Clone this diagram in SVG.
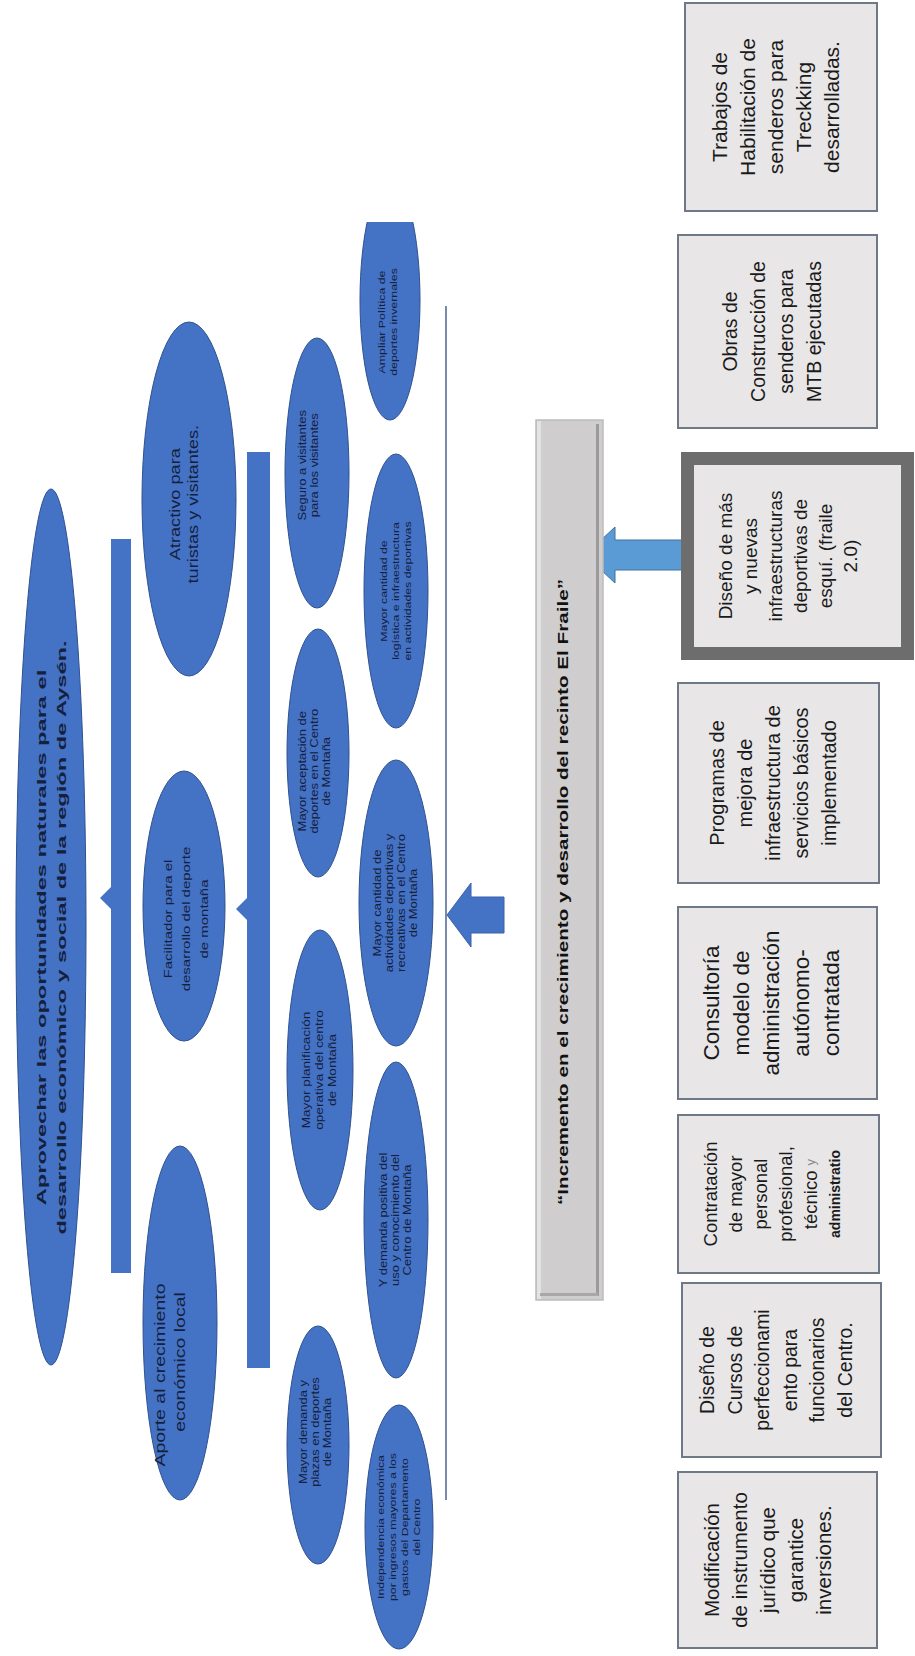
<svg xmlns="http://www.w3.org/2000/svg" width="915" height="1656" viewBox="0 0 915 1656">
<defs>
<style>
.ell{fill:#4472c4;stroke:#2f528f;stroke-width:1}
.bar{fill:#4472c4}
.et{font-family:"Liberation Sans",Arial,sans-serif;fill:#15203d;text-anchor:middle;dominant-baseline:central}
.box{fill:#e8e6e7;stroke:#6f7886;stroke-width:2}
.bt{font-family:"Liberation Sans",Arial,sans-serif;fill:#1a1a1a;text-anchor:middle;dominant-baseline:central}
</style>
<clipPath id="clipTop"><rect x="0" y="222" width="915" height="1434"/></clipPath>
</defs>
<rect width="915" height="1656" fill="#ffffff"/>

<g id="connectors">
<rect class="bar" x="111" y="539" width="20" height="734"/>
<rect class="bar" x="247" y="452" width="23" height="916"/>
<polygon fill="#4472c4" points="100,898 111,887 111,909"/>
<polygon fill="#4472c4" points="236,909 247,898 247,920"/>
<line x1="446" y1="306" x2="446" y2="1500" stroke="#4d6291" stroke-width="1.5"/>
<polygon fill="#4472c4" stroke="#3a62ad" stroke-width="1" points="447,915 471,883 471,897 504,897 504,933 471,933 471,947"/>
<polygon fill="#5b9bd5" stroke="#41719c" stroke-width="1" points="585,555 615,527 615,540 683,540 683,570 615,570 615,583"/>
</g>

<g id="n-aprovechar">
<ellipse class="ell" cx="51" cy="927" rx="35" ry="438"/>
<g transform="translate(51,927) rotate(-90) scale(1.75,1)">
<text class="et" font-size="13.5" font-weight="bold" x="-6" y="-10">Aprovechar las oportunidades naturales para el</text>
<text class="et" font-size="13.5" font-weight="bold" x="-6" y="10">desarrollo económico y social de la región de Aysén.</text>
</g>
</g>

<g id="n-atractivo">
<ellipse class="ell" cx="189" cy="499" rx="47" ry="177"/>
<g transform="translate(189,499) rotate(-90) scale(1.3,1)">
<text class="et" font-size="14" x="-4" y="-14">Atractivo para</text>
<text class="et" font-size="14" x="-4" y="4">turistas y visitantes.</text>
</g>
</g>

<g id="n-facilitador">
<ellipse class="ell" cx="184" cy="906" rx="41" ry="135"/>
<g transform="translate(184,906) rotate(-90) scale(1.3,1)">
<text class="et" font-size="11.5" x="-10" y="-16">Facilitador para el</text>
<text class="et" font-size="11.5" x="-10" y="2">desarrollo del deporte</text>
<text class="et" font-size="11.5" x="-10" y="20">de montaña</text>
</g>
</g>

<g id="n-aporte">
<ellipse class="ell" cx="180" cy="1323" rx="37" ry="177"/>
<g transform="translate(180,1323) rotate(-90) scale(1.3,1)">
<text class="et" font-size="15" x="-40" y="-20">Aporte al crecimiento</text>
<text class="et" font-size="15" x="-30" y="0">económico local</text>
</g>
</g>

<g id="n-seguro">
<ellipse class="ell" cx="317" cy="473" rx="32" ry="135"/>
<g transform="translate(317,473) rotate(-90) scale(1.3,1)">
<text class="et" font-size="10" x="6" y="-14">Seguro a visitantes</text>
<text class="et" font-size="10" x="6" y="-2">para los visitantes</text>
</g>
</g>

<g id="n-aceptacion">
<ellipse class="ell" cx="318" cy="753" rx="31" ry="124"/>
<g transform="translate(318,753) rotate(-90) scale(1.3,1)">
<text class="et" font-size="10" x="-14" y="-15">Mayor aceptación de</text>
<text class="et" font-size="10" x="-14" y="-3">deportes en el Centro</text>
<text class="et" font-size="10" x="-14" y="9">de Montaña</text>
</g>
</g>

<g id="n-planificacion">
<ellipse class="ell" cx="320" cy="1070" rx="33" ry="140"/>
<g transform="translate(320,1070) rotate(-90) scale(1.3,1)">
<text class="et" font-size="10.5" x="0" y="-13">Mayor planificación</text>
<text class="et" font-size="10.5" x="0" y="0">operativa del centro</text>
<text class="et" font-size="10.5" x="0" y="13">de Montaña</text>
</g>
</g>

<g id="n-demanda">
<ellipse class="ell" cx="318" cy="1445" rx="31" ry="119"/>
<g transform="translate(318,1445) rotate(-90) scale(1.3,1)">
<text class="et" font-size="10" x="10" y="-14">Mayor demanda y</text>
<text class="et" font-size="10" x="10" y="-2">plazas en deportes</text>
<text class="et" font-size="10" x="10" y="10">de Montaña</text>
</g>
</g>

<g id="n-ampliar">
<ellipse class="ell" cx="390" cy="300" rx="30" ry="120" clip-path="url(#clipTop)"/>
<g transform="translate(390,322) rotate(-90) scale(1.3,1)">
<text class="et" font-size="9.5" x="0" y="-8">Ampliar Política de</text>
<text class="et" font-size="9.5" x="0" y="4">deportes invernales</text>
</g>
</g>

<g id="n-logistica">
<ellipse class="ell" cx="396" cy="591" rx="32" ry="137"/>
<g transform="translate(396,591) rotate(-90) scale(1.3,1)">
<text class="et" font-size="9.5" x="0" y="-12">Mayor cantidad de</text>
<text class="et" font-size="9.5" x="0" y="0">logística e infraestructura</text>
<text class="et" font-size="9.5" x="0" y="12">en actividades deportivas</text>
</g>
</g>

<g id="n-actividades">
<ellipse class="ell" cx="396" cy="903" rx="37" ry="143"/>
<g transform="translate(396,903) rotate(-90) scale(1.3,1)">
<text class="et" font-size="10" x="0" y="-18">Mayor cantidad de</text>
<text class="et" font-size="10" x="0" y="-6">actividades deportivas y</text>
<text class="et" font-size="10" x="0" y="6">recreativas en el Centro</text>
<text class="et" font-size="10" x="0" y="18">de Montaña</text>
</g>
</g>

<g id="n-positiva">
<ellipse class="ell" cx="396" cy="1220" rx="32" ry="158"/>
<g transform="translate(396,1220) rotate(-90) scale(1.3,1)">
<text class="et" font-size="10" x="0" y="-12">Y demanda positiva del</text>
<text class="et" font-size="10" x="0" y="0">uso y conocimiento del</text>
<text class="et" font-size="10" x="0" y="12">Centro de Montaña</text>
</g>
</g>

<g id="n-independencia">
<ellipse class="ell" cx="399" cy="1527" rx="34" ry="122"/>
<g transform="translate(399,1527) rotate(-90) scale(1.3,1)">
<text class="et" font-size="9.5" x="0" y="-18">Independencia económica</text>
<text class="et" font-size="9.5" x="0" y="-6">por ingresos mayores a los</text>
<text class="et" font-size="9.5" x="0" y="6">gastos del Departamento</text>
<text class="et" font-size="9.5" x="0" y="18">del Centro</text>
</g>
</g>

<g id="n-incremento">
<rect x="536" y="420" width="67" height="880" fill="#cfcdcd" stroke="#bcbcbc" stroke-width="1.5"/>
<rect x="537" y="421" width="4" height="878" fill="#e4e3e3"/>
<rect x="596" y="424" width="3" height="872" fill="#9b9b9b"/>
<rect x="540" y="1293" width="58" height="3" fill="#a8a8a8"/>
<g transform="translate(563,892) rotate(-90)">
<text x="0" y="0" font-family="'Liberation Sans',Arial,sans-serif" font-weight="bold" font-size="14.5" fill="#111" text-anchor="middle" dominant-baseline="central" textLength="626" lengthAdjust="spacingAndGlyphs">“Incremento en el crecimiento y desarrollo del recinto El Fraile”</text>
</g>
</g>

<g id="b-trabajos" transform="translate(781,107) rotate(-90)">
<rect class="box" x="-104" y="-96" width="208" height="192"/>
<text class="bt" font-size="21" y="-62">Trabajos de</text>
<text class="bt" font-size="21" y="-34">Habilitación de</text>
<text class="bt" font-size="21" y="-6">senderos para</text>
<text class="bt" font-size="21" y="22">Treckking</text>
<text class="bt" font-size="21" y="50">desarrolladas.</text>
</g>

<g id="b-obras" transform="translate(777.5,331.5) rotate(-90)">
<rect class="box" x="-96.5" y="-99.5" width="193" height="199"/>
<text class="bt" font-size="19.5" y="-48">Obras de</text>
<text class="bt" font-size="19.5" y="-20">Construcción de</text>
<text class="bt" font-size="19.5" y="8">senderos para</text>
<text class="bt" font-size="19.5" y="36">MTB ejecutadas</text>
</g>

<g id="b-diseno" transform="translate(797.5,556) rotate(-90)">
<rect x="-104" y="-116.5" width="208" height="233" fill="#6d6d6d"/>
<rect x="-91" y="-103.5" width="182" height="207" fill="#e8e6e7"/>
<text class="bt" font-size="19" y="-72.5">Diseño de más</text>
<text class="bt" font-size="19" y="-47.5">y nuevas</text>
<text class="bt" font-size="19" y="-22.5">infraestructuras</text>
<text class="bt" font-size="19" y="2.5">deportivas de</text>
<text class="bt" font-size="19" y="27.5">esquí. (fraile</text>
<text class="bt" font-size="19" y="52.5">2.0)</text>
</g>

<g id="b-programas" transform="translate(778.5,783) rotate(-90)">
<rect class="box" x="-100" y="-100.5" width="200" height="201"/>
<text class="bt" font-size="20" y="-62">Programas de</text>
<text class="bt" font-size="20" y="-34">mejora de</text>
<text class="bt" font-size="20" y="-6">infraestructura de</text>
<text class="bt" font-size="20" y="22">servicios básicos</text>
<text class="bt" font-size="20" y="50">implementado</text>
</g>

<g id="b-consultoria" transform="translate(777.5,1003) rotate(-90)">
<rect class="box" x="-96" y="-99.5" width="192" height="199"/>
<text class="bt" font-size="22.5" y="-66">Consultoría</text>
<text class="bt" font-size="22.5" y="-36">modelo de</text>
<text class="bt" font-size="22.5" y="-6">administración</text>
<text class="bt" font-size="22.5" y="24">autónomo-</text>
<text class="bt" font-size="22.5" y="54">contratada</text>
</g>

<g id="b-contratacion" transform="translate(778.5,1194) rotate(-90)">
<rect class="box" x="-79" y="-100.5" width="158" height="201"/>
<text class="bt" font-size="18.5" y="-68.5">Contratación</text>
<text class="bt" font-size="18.5" y="-43.5">de mayor</text>
<text class="bt" font-size="18.5" y="-18.5">personal</text>
<text class="bt" font-size="18.5" y="6.5">profesional,</text>
<text class="bt" font-size="18.5" y="31.5">técnico <tspan font-size="13" fill="#8a8a8a">y</tspan></text>
<text class="bt" font-size="14" font-weight="bold" y="56.5">administratio</text>
</g>

<g id="b-cursos" transform="translate(781.5,1370) rotate(-90)">
<rect class="box" x="-87" y="-99.5" width="174" height="199"/>
<text class="bt" font-size="19.5" y="-74.25">Diseño de</text>
<text class="bt" font-size="19.5" y="-46.75">Cursos de</text>
<text class="bt" font-size="19.5" y="-19.25">perfeccionami</text>
<text class="bt" font-size="19.5" y="8.25">ento para</text>
<text class="bt" font-size="19.5" y="35.75">funcionarios</text>
<text class="bt" font-size="19.5" y="63.25">del Centro.</text>
</g>

<g id="b-modificacion" transform="translate(777.5,1560) rotate(-90)">
<rect class="box" x="-88" y="-99.5" width="176" height="199"/>
<text class="bt" font-size="20.5" y="-66.5">Modificación</text>
<text class="bt" font-size="20.5" y="-38.5">de instrumento</text>
<text class="bt" font-size="20.5" y="-10.5">jurídico que</text>
<text class="bt" font-size="20.5" y="17.5">garantice</text>
<text class="bt" font-size="20.5" y="45.5">inversiones.</text>
</g>
</svg>
